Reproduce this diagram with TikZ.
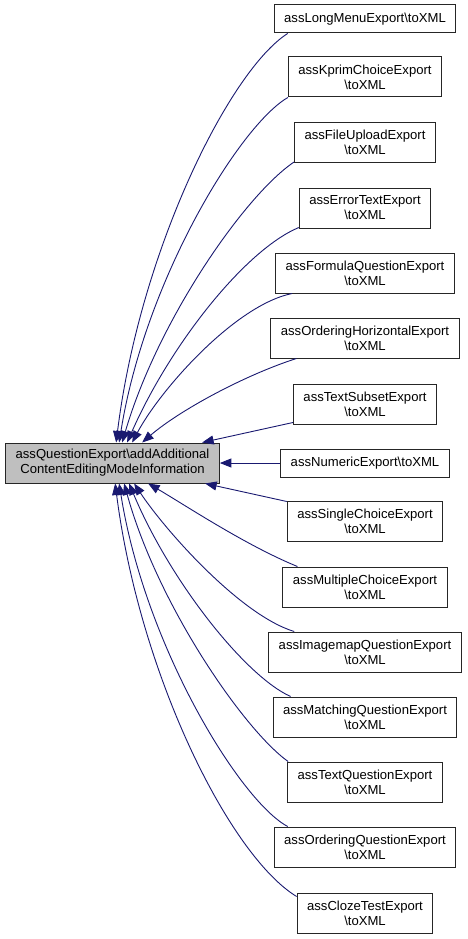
\documentclass[tikz,border=0pt]{standalone}
\usepackage{fontspec}
\setmainfont{Liberation Sans}
\usetikzlibrary{arrows.meta}
\definecolor{midnight}{HTML}{191970}
\tikzset{
    xmlbox/.style={draw=black!85, line width=1pt, fill=white, inner xsep=10pt, inner ysep=0pt,
        minimum height=40pt, align=center, font=\fontsize{13.1}{15}\selectfont},
    onebox/.style={xmlbox, minimum height=28pt},
    xmlarrow/.style={-{Triangle[length=11.5pt,width=9pt]}, draw=midnight, line width=0.9pt}
}

\begin{document}
\begin{tikzpicture}[x=1pt,y=-1pt]
    \useasboundingbox (0,0) rectangle (468,939);

    \node[xmlbox, fill=black!25] (0) at (112.5,463) {assQuestionExport\textbackslash addAdditional\\ContentEditingModeInformation};

    \node[onebox] (1) at (365,19) {assLongMenuExport\textbackslash toXML};
    \node[xmlbox] (2) at (365,77) {assKprimChoiceExport\\\textbackslash toXML};
    \node[xmlbox] (3) at (365,142.5) {assFileUploadExport\\\textbackslash toXML};
    \node[xmlbox] (4) at (365,208) {assErrorTextExport\\\textbackslash toXML};
    \node[xmlbox] (5) at (365,273) {assFormulaQuestionExport\\\textbackslash toXML};
    \node[xmlbox] (6) at (365,338) {assOrderingHorizontalExport\\\textbackslash toXML};
    \node[xmlbox] (7) at (365,404) {assTextSubsetExport\\\textbackslash toXML};
    \node[onebox] (8) at (365,463) {assNumericExport\textbackslash toXML};
    \node[xmlbox] (9) at (365,521) {assSingleChoiceExport\\\textbackslash toXML};
    \node[xmlbox] (10) at (365,587) {assMultipleChoiceExport\\\textbackslash toXML};
    \node[xmlbox] (11) at (365,652) {assImagemapQuestionExport\\\textbackslash toXML};
    \node[xmlbox] (12) at (365,717) {assMatchingQuestionExport\\\textbackslash toXML};
    \node[xmlbox] (13) at (365,782) {assTextQuestionExport\\\textbackslash toXML};
    \node[xmlbox] (14) at (365,847) {assOrderingQuestionExport\\\textbackslash toXML};
    \node[xmlbox] (15) at (365,913) {assClozeTestExport\\\textbackslash toXML};

    \draw[xmlarrow] ([xshift=14pt]1.south west) .. controls (230,70) and (140,250) .. ([xshift=111pt]0.north west);
    \draw[xmlarrow] (2.south west) .. controls (240,125) and (145,280) .. ([xshift=114pt]0.north west);
    \draw[xmlarrow] ([yshift=1pt]3.south west) .. controls (245,195) and (158,320) .. ([xshift=117pt]0.north west);
    \draw[xmlarrow] ([yshift=1pt]4.south west) .. controls (245,250) and (170,345) .. ([xshift=122pt]0.north west);
    \draw[xmlarrow] ([xshift=17pt]5.south west) .. controls (235,305) and (160,390) .. ([xshift=127pt]0.north west);
    \draw[xmlarrow] ([xshift=26pt]6.south west) .. controls (245,375) and (180,410) .. ([xshift=137pt]0.north west);
    \draw[xmlarrow] ([yshift=2pt]7.south west) -- ([xshift=197pt]0.north west);
    \draw[xmlarrow] (8.west) -- (0.east);
    \draw[xmlarrow] ([yshift=-1pt]9.north west) -- ([xshift=200pt]0.south west);
    \draw[xmlarrow] ([xshift=15pt]10.north west) .. controls (245,545) and (185,505) .. ([xshift=143pt]0.south west);
    \draw[xmlarrow] ([xshift=26pt]11.north west) .. controls (240,615) and (165,530) .. ([xshift=129pt]0.south west);
    \draw[xmlarrow] ([xshift=18pt]12.north west) .. controls (245,676) and (170,581) .. ([xshift=124pt]0.south west);
    \draw[xmlarrow] ([xshift=1pt]13.north west) .. controls (245,731) and (158,606) .. ([xshift=119pt]0.south west);
    \draw[xmlarrow] ([xshift=14pt]14.north west) .. controls (240,801) and (145,646) .. ([xshift=114pt]0.south west);
    \draw[xmlarrow] ([yshift=-4pt]15.north west) .. controls (230,856) and (140,676) .. ([xshift=110pt]0.south west);

\end{tikzpicture}
\end{document}
